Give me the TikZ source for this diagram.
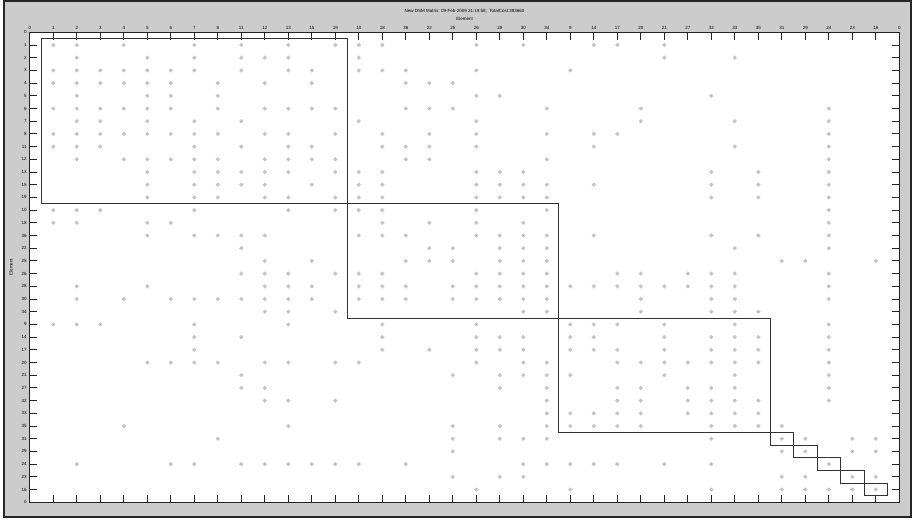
\documentclass[tikz,border=0pt]{standalone}
\usepackage{fontspec}
\setmainfont{Liberation Sans}
\definecolor{figgrey}{RGB}{204,204,204}
\definecolor{dotgrey}{RGB}{196,196,196}
\definecolor{axisline}{RGB}{35,35,35}

\tikzset{
  dsmdot/.style={fill=dotgrey},
  tickline/.style={draw=axisline, line width=0.9pt},
  blockline/.style={draw=black!80, line width=0.8pt},
  ticklabel/.style={font=\fontsize{4.5}{5}\selectfont, inner sep=0pt},
}

\begin{document}
\begin{tikzpicture}[x=1pt, y=-1pt]
\useasboundingbox (0,0) rectangle (924,520);
\fill[white] (0,0) rectangle (924,520);

% figure window
\draw[line width=2pt, draw=black!85, fill=figgrey] (4,1) rectangle (911,517);

% titles
\node[ticklabel] (title) at (464.5,11) {New DSM Matrix: 09-Feb-2009 21:19:58;\ \ TotalCost:383660};
\node[ticklabel] (xlab) at (464.5,19) {Element};
\node[ticklabel, rotate=90] (ylab) at (11,267) {Element};

\begin{scope}[shift={(29.8pt,-32.3pt)}, x=23.5pt, y=-12.7pt]
\draw[draw=axisline, fill=white, line width=1.1pt] (0,0) rectangle (37,37);

% ticks on all four sides
\foreach \k in {1,...,36} {
  \draw[tickline] (\k,0) -- ++(0,-7.5pt);
  \draw[tickline] (\k,37) -- ++(0,7.5pt);
  \draw[tickline] (0,\k) -- ++(7.5pt,0);
  \draw[tickline] (37,\k) -- ++(-7.5pt,0);
}

% element order
\foreach \lab [count=\i from 0] in {0,1,2,3,4,5,6,7,8,11,12,13,15,19,10,18,36,22,25,26,28,30,34,9,14,17,20,21,27,32,33,35,31,29,24,23,16,0} {
  \node[ticklabel, anchor=base] (top\i) at ([yshift=3pt]\i,0) {\lab};
  \node[ticklabel, anchor=east] (left\i) at ([xshift=-3pt]0,\i) {\lab};
}

% dependencies
\foreach \r/\cols in {
  1/{1,2,4,7,9,11,13,14,15,19,21,24,25,27},
  2/{2,5,7,9,10,11,14,27,30},
  3/{1,2,3,4,5,6,7,9,11,12,14,15,16,19,23},
  4/{1,2,3,4,5,6,8,10,12,16,17,18},
  5/{2,5,6,8,19,20,29},
  6/{1,2,3,4,5,6,8,10,11,12,13,16,17,18,22,26,34},
  7/{2,3,5,7,9,14,19,26,30,34},
  8/{1,2,3,4,5,6,7,8,10,11,13,15,17,19,22,24,25,34},
  9/{1,2,3,7,9,11,12,15,16,17,19,24,30,34},
  10/{2,4,5,6,7,8,10,11,12,13,16,17,22,34},
  11/{5,7,8,9,10,11,13,14,15,19,20,21,29,31,34},
  12/{5,7,8,9,10,12,14,15,19,20,21,22,24,29,31,34},
  13/{5,7,8,10,11,13,14,15,19,20,21,22,29,31,34},
  14/{1,2,3,7,11,13,14,15,19,22,34},
  15/{1,2,5,6,15,17,19,21,34},
  16/{5,7,8,9,10,14,15,16,19,20,21,22,24,29,31,34},
  17/{9,17,18,20,21,22,30,34},
  18/{10,12,16,17,18,20,21,22,32,33,36},
  19/{9,10,11,13,14,15,19,20,21,22,25,26,28,29,30,34},
  20/{2,5,10,11,12,14,15,16,18,19,20,21,22,23,24,25,26,27,28,29,30,34},
  21/{2,4,6,7,8,9,10,11,12,14,15,16,18,19,20,21,22,26,29,30,34},
  22/{10,11,13,21,22,26,29,30,31},
  23/{1,2,3,7,11,15,19,23,24,25,27,30,34},
  24/{7,9,15,19,20,21,23,24,27,29,30,31,34},
  25/{7,15,17,19,20,21,23,24,25,27,29,30,31,34},
  26/{5,6,7,8,10,11,13,14,19,21,22,25,26,27,28,29,30,31,34},
  27/{9,18,20,21,22,23,27,30,34},
  28/{9,10,20,22,25,26,28,29,30,34},
  29/{10,11,13,22,25,26,28,29,30,31,34},
  30/{22,23,24,25,26,28,29,30,31},
  31/{4,11,18,20,22,23,24,25,26,29,30,31,32},
  32/{8,18,20,21,22,29,32,33,35,36},
  33/{18,32,33,35,36},
  34/{2,6,7,9,10,11,12,13,14,16,21,22,23,24,25,27,29,34},
  35/{18,20,21,32,33,35,36},
  36/{19,23,29,32,33,34,35,36}} {
  \foreach \c in \cols
    \fill[dsmdot] (\c,\r) +(-2.2pt,0) -- +(0,2.2pt) -- +(2.2pt,0) -- +(0,-2.2pt) -- cycle;
}

% clusters
\draw[blockline] (0.5,0.5) rectangle (13.5,13.5);
\draw[blockline] (13.5,13.5) rectangle (22.5,22.5);
\draw[blockline] (22.5,22.5) rectangle (31.5,31.5);
\foreach \k in {32,...,36}
  \draw[blockline] (\k-0.5,\k-0.5) rectangle (\k+0.5,\k+0.5);
\end{scope}
\end{tikzpicture}
\end{document}
